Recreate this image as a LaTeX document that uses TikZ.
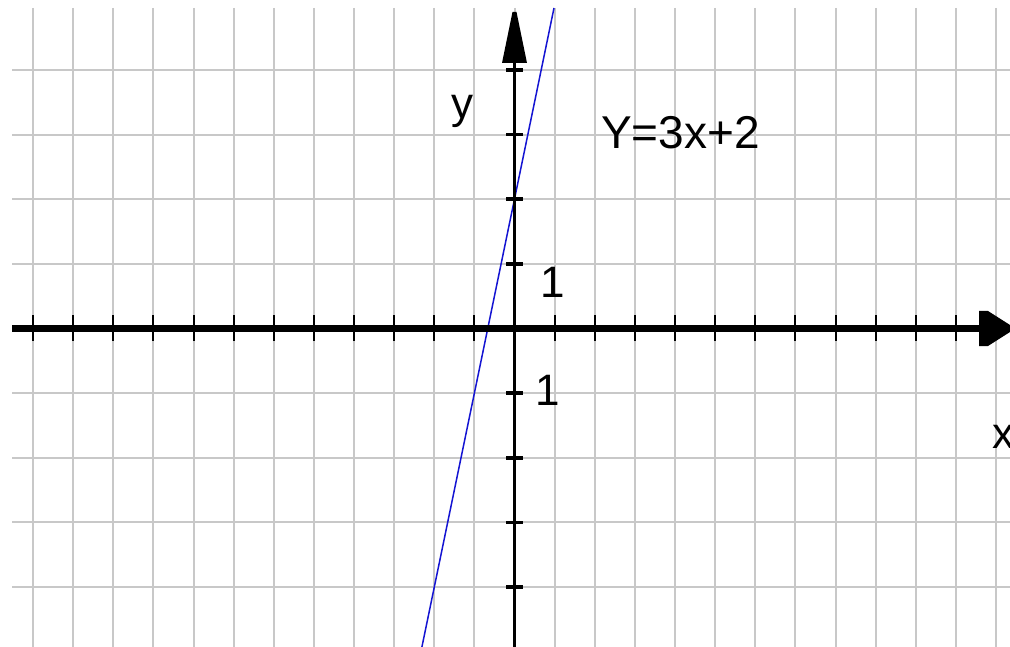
\documentclass[tikz,border=0pt]{standalone}
\usepackage{fontspec}
\setmainfont{Liberation Sans}
\definecolor{gridc}{RGB}{200,200,200}
\definecolor{lineb}{RGB}{20,20,210}
\begin{document}
\begin{tikzpicture}[x=1pt,y=-1pt,
  gridline/.style={draw=gridc, line width=2pt},
  axisx/.style={draw=black, line width=7.5pt},
  axisy/.style={draw=black, line width=3.5pt},
  xtick/.style={draw=black, line width=2pt},
  ytick/.style={draw=black, line width=3.5pt},
  graphline/.style={draw=lineb, line width=1.5pt},
  lbl/.style={inner sep=0pt, font=\fontsize{44}{44}\selectfont},
  eqlbl/.style={inner sep=0pt, font=\fontsize{46}{46}\selectfont}]
\useasboundingbox (0,0) rectangle (1010,647);
\clip (0,0) rectangle (1010,647);
% grid
\foreach \i in {0,...,24}
  \draw[gridline] ({33+40.125*\i},8) -- ({33+40.125*\i},647);
\foreach \j in {-4,...,4}
  \draw[gridline] (12,{328.5+64.65*\j}) -- (1010,{328.5+64.65*\j});
% graph line
\coordinate (Ltop) at (554,8);
\coordinate (Lbot) at (421.9,647);
\draw[graphline] (Lbot) -- (Ltop);
% x axis
\coordinate (xs) at (12,328.5);
\coordinate (xe) at (985,328.5);
\draw[axisx] (xs) -- (xe);
\fill (979,311) -- (988,311) -- (1010,325) -- (1010,332) -- (988,346) -- (979,346) -- cycle;
\foreach \i in {0,...,11,13,14,...,23}
  \draw[xtick] ({33+40.125*\i},315) -- ({33+40.125*\i},341);
% y axis
\coordinate (ys) at (514.5,647);
\coordinate (ye) at (514.5,40);
\draw[axisy] (ys) -- (ye);
\fill (502,63) -- (527,63) -- (516.5,12) -- (512.5,12) -- cycle;
\foreach \j in {-4,...,-1,1,2,3,4}
  \draw[ytick] (506,{328.5+64.65*\j}) -- (523,{328.5+64.65*\j});
% labels
\node[eqlbl, anchor=base west] (eq) at (601,149) {Y=3x+2};
\node[lbl, anchor=base west] (ly) at (451,119) {y};
\node[lbl, anchor=base west] (lx) at (992,448) {x};
\node[lbl, anchor=base] (one1) at (552.6,298) {1};
\node[lbl, anchor=base] (one2) at (547.6,405) {1};
\end{tikzpicture}
\end{document}
